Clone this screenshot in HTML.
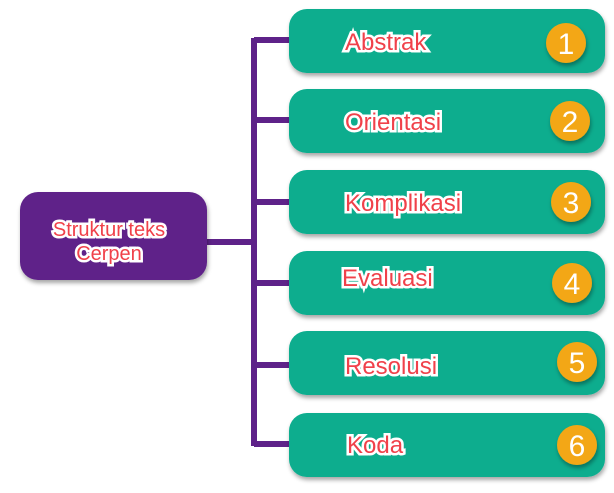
<!DOCTYPE html><html><head><style>body{margin:0;background:#fff}</style></head><body>
<svg width="614" height="488" xmlns="http://www.w3.org/2000/svg" font-family="Liberation Sans, sans-serif">
<defs><filter id="s" x="-10%" y="-10%" width="130%" height="140%"><feDropShadow dx="1" dy="3" stdDeviation="2" flood-color="#000" flood-opacity="0.35"/></filter></defs>
<g stroke="#5e2289" stroke-width="6" fill="none">
<line x1="254" y1="38" x2="254" y2="446"/>
<line x1="205" y1="242" x2="254" y2="242"/>
<line x1="254" y1="40" x2="292" y2="40"/>
<line x1="254" y1="120" x2="292" y2="120"/>
<line x1="254" y1="202" x2="292" y2="202"/>
<line x1="254" y1="283" x2="292" y2="283"/>
<line x1="254" y1="365" x2="292" y2="365"/>
<line x1="254" y1="444" x2="292" y2="444"/>
</g>
<rect x="20" y="192" width="187" height="88" rx="18" fill="#5e2289" filter="url(#s)"/>
<g font-size="20" fill="#f0414a" stroke="#fff" stroke-width="5" paint-order="stroke" text-anchor="middle">
<text x="109" y="236">Struktur teks</text><text x="109" y="260">Cerpen</text></g>
<g filter="url(#s)" fill="#07ad8e">
<rect x="289" y="9" width="316" height="64" rx="18"/>
<rect x="289" y="89" width="316" height="64" rx="18"/>
<rect x="289" y="170" width="316" height="64" rx="18"/>
<rect x="289" y="251" width="316" height="64" rx="18"/>
<rect x="289" y="331" width="316" height="64" rx="18"/>
<rect x="289" y="413" width="316" height="64" rx="18"/>
</g>
<g fill="#f3a712" filter="url(#s)">
<circle cx="566" cy="43" r="20"/><circle cx="570" cy="121" r="20"/><circle cx="571" cy="202" r="20"/><circle cx="572" cy="283" r="20"/><circle cx="577" cy="362" r="20"/><circle cx="577" cy="445" r="20"/>
</g>
<g fill="#fff" font-size="30" text-anchor="middle">
<text x="566" y="54">1</text><text x="570" y="132">2</text><text x="571" y="213">3</text><text x="572" y="294">4</text><text x="577" y="373">5</text><text x="577" y="456">6</text></g>
<g font-size="24" fill="#f0414a" stroke="#fff" stroke-width="5" paint-order="stroke">
<text x="345" y="50">Abstrak</text>
<text x="345" y="130">Orientasi</text>
<text x="345" y="211">Komplikasi</text>
<text x="342" y="286">Evaluasi</text>
<text x="345" y="374">Resolusi</text>
<text x="347" y="453">Koda</text>
</g>
</svg></body></html>
